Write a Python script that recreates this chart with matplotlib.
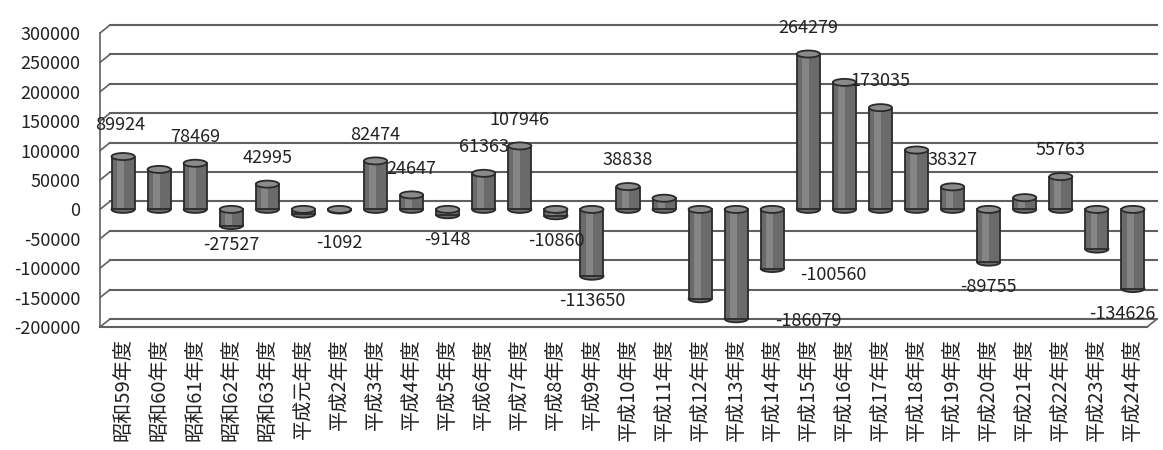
import matplotlib
matplotlib.use('Agg')
import matplotlib.pyplot as plt
from matplotlib.patches import Ellipse
from matplotlib.transforms import offset_copy
import numpy as np

plt.rcParams['font.family'] = ['Noto Sans CJK JP', 'DejaVu Sans']

categories = ['昭和59年度', '昭和60年度', '昭和61年度', '昭和62年度', '昭和63年度',
              '平成元年度', '平成2年度', '平成3年度', '平成4年度', '平成5年度',
              '平成6年度', '平成7年度', '平成8年度', '平成9年度', '平成10年度',
              '平成11年度', '平成12年度', '平成13年度', '平成14年度', '平成15年度',
              '平成16年度', '平成17年度', '平成18年度', '平成19年度', '平成20年度',
              '平成21年度', '平成22年度', '平成23年度', '平成24年度']

values = [89924, 68000, 78469, -27527, 42995,
          -8000, -1092, 82474, 24647, -9148,
          61363, 107946, -10860, -113650, 38838,
          19000, -152000, -186079, -100560, 264279,
          216000, 173035, 101000, 38327, -89755,
          20000, 55763, -67500, -134626]

# which bars carry a value label in the original
labelled = [1, 0, 1, 1, 1,
            0, 1, 1, 1, 1,
            1, 1, 1, 1, 1,
            0, 0, 1, 1, 1,
            0, 1, 0, 1, 1,
            0, 1, 0, 1]

yticks = [-200000, -150000, -100000, -50000, 0, 50000,
          100000, 150000, 200000, 250000, 300000]

# labels that were moved by hand in the original (index: (dx in bars, y value))
moved = {17: (2.0, -189000), 18: (1.7, -112000)}
# small nudges in points (index: (dx, dy))
nudge = {0: (-2, 4), 3: (0, 4), 6: (0, -6), 28: (-8, 0)}

fig = plt.figure(figsize=(11.63, 4.5), dpi=100)
ax = fig.add_axes([100 / 1163, 1 - 327 / 450, 1047 / 1163, 294 / 450])

x = np.arange(len(categories))
xmin, xmax = -0.64, 28.39
ymin, ymax = -200000, 300000
ax.set_xlim(xmin, xmax)
ax.set_ylim(ymin, ymax)

grid_c = '#606060'
back = offset_copy(ax.transData, fig=fig, x=10, y=8, units='dots')

# back wall grid lines with the slanted side wall
for t in yticks:
    ax.plot([xmin, xmax], [t, t], color=grid_c, lw=1.5, transform=back,
            zorder=1, clip_on=False)
    ax.annotate('', xy=(xmin, t), xycoords='data',
                xytext=(10, 8), textcoords='offset pixels',
                arrowprops=dict(arrowstyle='-', color=grid_c, lw=1.2,
                                shrinkA=0, shrinkB=0), zorder=1)
ax.plot([xmin, xmin], [ymin, ymax], color=grid_c, lw=1.2, zorder=1, clip_on=False)
# floor front edge
ax.plot([xmin, xmax], [ymin, ymin], color=grid_c, lw=1.5, zorder=1, clip_on=False)
ax.annotate('', xy=(xmax, ymin), xycoords='data',
            xytext=(10, 8), textcoords='offset pixels',
            arrowprops=dict(arrowstyle='-', color=grid_c, lw=1.2,
                            shrinkA=0, shrinkB=0), zorder=1)

# cylinders
w = 0.64
cap_h = 12000
body_c = '#6a6a6a'
edge_c = '#2a2a2a'
ax.bar(x, values, width=w, color=body_c, edgecolor='none', zorder=3)
ax.bar(x - 0.08, values, width=w * 0.3, color='#858585', edgecolor='none', zorder=3)
ax.bar(x, values, width=w, fill=False, edgecolor=edge_c, lw=1.3, zorder=4)
for xi, v in zip(x, values):
    top, bot = max(v, 0), min(v, 0)
    ax.add_patch(Ellipse((xi, bot), w, cap_h, facecolor=body_c,
                         edgecolor=edge_c, lw=1.3, zorder=2))
    ax.add_patch(Ellipse((xi, top), w, cap_h, facecolor='#8a8a8a',
                         edgecolor=edge_c, lw=1.3, zorder=5))

# value labels
for i, (xi, v) in enumerate(zip(x, values)):
    if not labelled[i]:
        continue
    if i in moved:
        dx, yv = moved[i]
        ax.text(xi + dx, yv, str(v), ha='center', va='center',
                fontsize=13, color='#222222', zorder=6)
        continue
    ndx, ndy = nudge.get(i, (0, 0))
    off = 19 if v >= 0 else -18
    ax.annotate(str(v), (xi, v), xytext=(ndx, off + ndy), textcoords='offset points',
                ha='center', va='center', fontsize=13, color='#222222', zorder=6)

ax.set_xticks(x)
ax.set_xticklabels(categories, rotation=90, fontsize=14.5, color='#222222')
ax.set_yticks(yticks)
ax.set_yticklabels([str(t) for t in yticks], fontsize=13, color='#222222')
ax.tick_params(axis='both', length=0)
ax.tick_params(axis='y', pad=14)
ax.tick_params(axis='x', pad=8)
for s in ax.spines.values():
    s.set_visible(False)

fig.savefig('out.png', dpi=100)
